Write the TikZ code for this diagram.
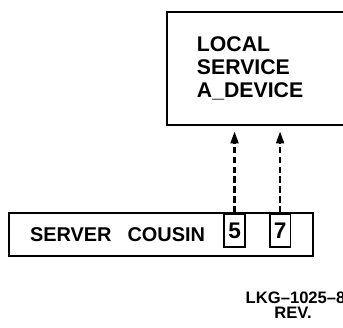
\documentclass[tikz,border=0pt]{standalone}
\usepackage{fontspec}
\setsansfont{Liberation Sans}
\usetikzlibrary{arrows.meta, positioning}
\tikzset{
  every picture/.style={font=\sffamily\bfseries, line width=1.4pt},
  unit/.style={draw, rectangle, align=left, font=\sffamily\bfseries\fontsize{16}{17}\selectfont},
  port/.style={draw, rectangle, inner sep=0pt, minimum width=0.55cm, minimum height=0.87cm, anchor=north, font=\sffamily\bfseries\fontsize{17}{18}\selectfont},
  link/.style={-{Triangle[length=9pt, width=6pt]}, line width=1.6pt, dash pattern=on 5pt off 2.5pt, shorten >=5pt},
  tag/.style={font=\sffamily\bfseries\fontsize{12.5}{14}\selectfont},
}
\begin{document}
\begin{tikzpicture}
  \useasboundingbox (0,0) rectangle (9.075,8.652);
  \clip (0,0) rectangle (9.075,8.652);
  % local service device (runs off the right edge, so no right side)
  \node[unit, draw=none, anchor=north west, minimum height=2.937cm, text width=8cm, inner xsep=0.767cm] (dev) at (4.419,8.335)
    {LOCAL\\SERVICE\\A\_DEVICE};
  \draw (dev.north east) -- (dev.north west) -- (dev.south west) -- (dev.south east);
  % server cousin with its ports
  \node[unit, minimum height=1.137cm, text width=6.93cm, inner xsep=0.556cm, font=\sffamily\bfseries\fontsize{15}{18}\selectfont] (srv) at (4.26,2.448)
    {SERVER\hspace{0.8em}COUSIN};
  \node[port] (p5) at (6.205,3.016) {5};
  \node[port] (p7) at (7.41,3.016) {7};
  % connections
  \draw[link] (p5.north) -- (p5.north |- dev.south);
  \draw[link] (p7.north) -- (p7.north |- dev.south);
  % drawing number
  \node[tag, anchor=west] (num) at (6.36,0.767) {LKG--1025--88};
  \node[tag] (rev) at (7.753,0.37) {REV.};
\end{tikzpicture}
\end{document}
